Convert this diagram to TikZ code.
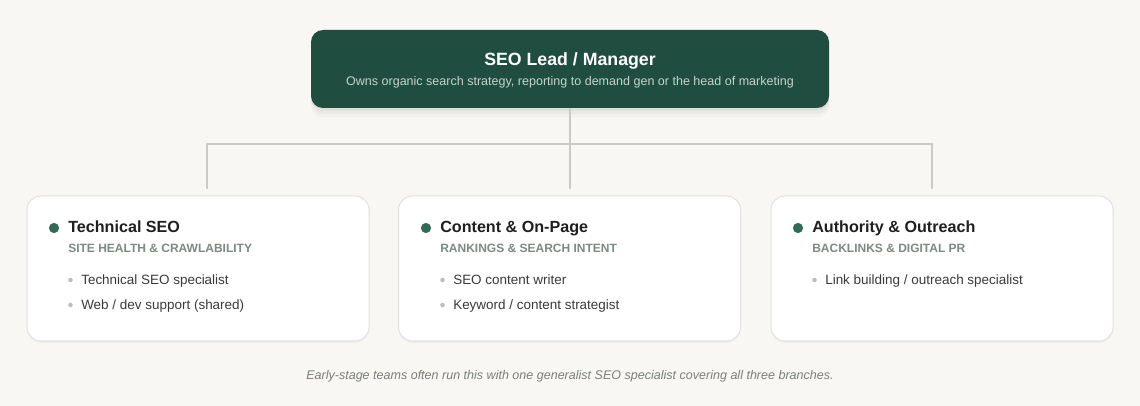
\documentclass[tikz,border=0pt]{standalone}
\usepackage{fontspec}
\setmainfont{Liberation Sans}
\definecolor{bg}{HTML}{F8F7F3}
\definecolor{leadgreen}{HTML}{1F4D3F}
\definecolor{leadsub}{HTML}{C3D5CA}
\definecolor{dotgreen}{HTML}{2F6B55}
\definecolor{capgray}{HTML}{7C8A81}
\definecolor{wiregray}{HTML}{C9CCC6}
\definecolor{boxline}{HTML}{E2E2DC}
\definecolor{itemtext}{HTML}{3A3A3A}
\definecolor{bulletgray}{HTML}{BDBDBA}
\definecolor{notegray}{HTML}{7A7F78}
\begin{document}
\begin{tikzpicture}[x=0.75pt, y=-0.75pt,
	lead/.style = {fill=leadgreen, rounded corners=9pt, minimum width=388.5pt, minimum height=58.5pt, inner sep=0pt,
		preaction={fill=black, fill opacity=0.025, transform canvas={yshift=-7pt}},
		preaction={fill=black, fill opacity=0.03, transform canvas={yshift=-4.5pt}},
		preaction={fill=black, fill opacity=0.04, transform canvas={yshift=-2pt}}},
	branch/.style = {draw=boxline, fill=white, line width=0.75pt, rounded corners=10.5pt, minimum width=256.5pt, minimum height=108.75pt, inner sep=0pt,
		preaction={fill=black, fill opacity=0.03, transform canvas={yshift=-1.5pt}}},
	wire/.style = {draw=wiregray, line width=1.5pt},
	head/.style = {anchor=base west, font=\fontsize{12.1}{15}\selectfont\bfseries, text=black!88, inner sep=0pt},
	tagline/.style = {anchor=base west, font=\fontsize{9}{11}\selectfont\bfseries, text=capgray, inner sep=0pt},
	item/.style = {anchor=base west, font=\fontsize{10.1}{12}\selectfont, text=itemtext, inner sep=0pt}]
		% Tausta
		\fill[bg] (0,0) rectangle (1140,406);
		\useasboundingbox (0,0) rectangle (1140,406);
		% Johtaja
		\node[lead] (lead) at (570,69) {};
		\node[anchor=base, font=\fontsize{13.3}{16}\selectfont\bfseries, text=white, inner sep=0pt] (leadtitle) at (570,66) {SEO Lead / Manager};
		\node[anchor=base, font=\fontsize{9.4}{11}\selectfont, text=leadsub, inner sep=0pt] (leadsub) at (570,86) {Owns organic search strategy, reporting to demand gen or the head of marketing};
		% Liitokset
		\coordinate (split) at (570,144);
		\coordinate (h1) at (207,144);
		\coordinate (h3) at (932,144);
		\coordinate (j1) at (207,189);
		\coordinate (j2) at (570,189);
		\coordinate (j3) at (932,189);
		\draw[wire] (lead.south) -- (j2);
		\draw[wire] (j1) -- (h1) -- (h3) -- (j3);
		% Haarat
		\node[branch] (tech) at (198,268.5) {};
		\node[branch] (content) at (569.5,268.5) {};
		\node[branch] (authority) at (942,268.5) {};
		% Technical SEO
		\filldraw[dotgreen] (54,228) circle (3.6pt);
		\node[head] (techhead) at (68,233) {Technical SEO};
		\node[tagline] (techcap) at (68,252.5) {SITE HEALTH \& CRAWLABILITY};
		\fill[bulletgray] (70.5,280) circle (1.7pt);
		\node[item] (tech1) at (81,285) {Technical SEO specialist};
		\fill[bulletgray] (70.5,305) circle (1.7pt);
		\node[item] (tech2) at (81,310) {Web / dev support (shared)};
		% Content & On-Page
		\filldraw[dotgreen] (426,228) circle (3.6pt);
		\node[head] (conthead) at (440,233) {Content \& On-Page};
		\node[tagline] (contcap) at (440,252.5) {RANKINGS \& SEARCH INTENT};
		\fill[bulletgray] (442.5,280) circle (1.7pt);
		\node[item] (cont1) at (453,285) {SEO content writer};
		\fill[bulletgray] (442.5,305) circle (1.7pt);
		\node[item] (cont2) at (453,310) {Keyword / content strategist};
		% Authority & Outreach
		\filldraw[dotgreen] (798,228) circle (3.6pt);
		\node[head] (authhead) at (812,233) {Authority \& Outreach};
		\node[tagline] (authcap) at (812,252.5) {BACKLINKS \& DIGITAL PR};
		\fill[bulletgray] (814.5,280) circle (1.7pt);
		\node[item] (auth1) at (825,285) {Link building / outreach specialist};
		% Huomautus
		\node[anchor=base, font=\fontsize{9.4}{11}\selectfont\itshape, text=notegray, inner sep=0pt] (note) at (570,379.5) {Early-stage teams often run this with one generalist SEO specialist covering all three branches.};
\end{tikzpicture}
\end{document}
